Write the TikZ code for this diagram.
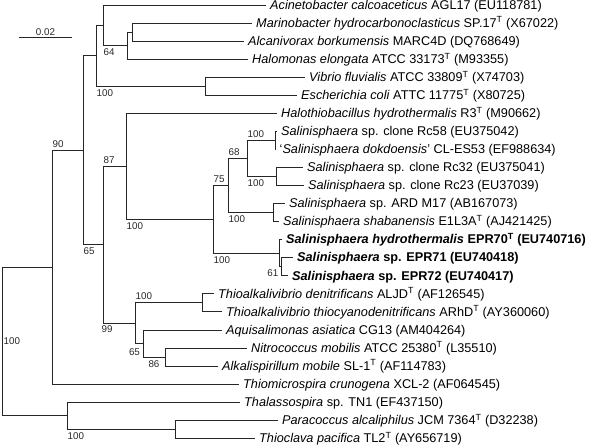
\documentclass[tikz,border=0pt]{standalone}
\usepackage{fontspec}
\setmainfont{Liberation Sans}

\begin{document}
\begin{tikzpicture}
    [x=1pt,y=-1pt,
      branch/.style={draw=black!85,line width=0.8pt},
      taxon/.style={anchor=west,inner xsep=4pt,inner ysep=0pt,text height=11pt,text depth=2.5pt,font=\fontsize{12.7}{14}\selectfont},
      bold taxon/.style={taxon,font=\fontsize{12.7}{14}\selectfont\bfseries},
      boot/.style={inner xsep=0.5pt,inner ysep=2.8pt,text=black!85,font=\fontsize{9.8}{11}\selectfont},
      bootb/.style={boot,anchor=north west},
      boota/.style={boot,anchor=south west}
    ]
    \useasboundingbox (0,0) rectangle (590,447);
    \coordinate (root) at (2,341.4);
    \coordinate (nU) at (52,267.1);
    \coordinate (nT) at (83,150.2);
    \coordinate (nE) at (96,55.8);
    \coordinate (nC) at (103,25.3);
    \coordinate (nB) at (127,45.6);
    \coordinate (nA) at (132,32.1);
    \coordinate (nD) at (205,86.2);
    \coordinate (nS) at (103,244.7);
    \coordinate (nN) at (126,166.3);
    \coordinate (nM) at (213,219.3);
    \coordinate (nJ) at (228,185.5);
    \coordinate (nH) at (247,158.4);
    \coordinate (nF) at (275,140.4);
    \coordinate (nG) at (276,176.5);
    \coordinate (nI) at (273,212.6);
    \coordinate (nL) at (279,253.2);
    \coordinate (nK) at (281,266.7);
    \coordinate (nR) at (135,323.1);
    \coordinate (nO) at (202,302.8);
    \coordinate (nQ) at (143,343.4);
    \coordinate (nP) at (165,357.0);
    \coordinate (nW) at (67,415.6);
    \coordinate (nV) at (175,429.2);

    \node [taxon] (acin) at (266,5.0) {\textit{Acinetobacter calcoaceticus} AGL17 (EU118781)};
    \node [taxon] (mari) at (252,23.05) {\textit{Marinobacter hydrocarbonoclasticus} SP.17\textsuperscript{T} (X67022)};
    \node [taxon] (alca) at (244,41.1) {\textit{Alcanivorax borkumensis} MARC4D (DQ768649)};
    \node [taxon] (halo) at (248,59.15) {\textit{Halomonas elongata} ATCC 33173\textsuperscript{T} (M93355)};
    \node [taxon] (vibr) at (305,77.2) {\textit{Vibrio fluvialis} ATCC 33809\textsuperscript{T} (X74703)};
    \node [taxon] (esch) at (297,95.25) {\textit{Escherichia coli} ATTC 11775\textsuperscript{T} (X80725)};
    \node [taxon] (hthi) at (277,113.3) {\textit{Halothiobacillus hydrothermalis} R3\textsuperscript{T} (M90662)};
    \node [taxon] (rc58) at (277,131.35) {\textit{Salinisphaera} sp. clone Rc58 (EU375042)};
    \node [taxon] (dokd) at (275.5,149.4) {`\textit{Salinisphaera dokdoensis}' CL-ES53 (EF988634)};
    \node [taxon] (rc32) at (303,167.45) {\textit{Salinisphaera} sp. clone Rc32 (EU375041)};
    \node [taxon] (rc23) at (304,185.5) {\textit{Salinisphaera} sp. clone Rc23 (EU37039)};
    \node [taxon] (ardm) at (285,203.55) {\textit{Salinisphaera} sp. ARD M17 (AB167073)};
    \node [taxon] (shab) at (279,221.6) {\textit{Salinisphaera shabanensis} E1L3A\textsuperscript{T} (AJ421425)};
    \node [bold taxon] (epr70) at (282,239.65) {\textit{Salinisphaera hydrothermalis} EPR70\textsuperscript{T} (EU740716)};
    \node [bold taxon] (epr71) at (293,257.7) {\textit{Salinisphaera} sp. EPR71 (EU740418)};
    \node [bold taxon] (epr72) at (288,275.75) {\textit{Salinisphaera} sp. EPR72 (EU740417)};
    \node [taxon] (tden) at (214,293.8) {\textit{Thioalkalivibrio denitrificans} ALJD\textsuperscript{T} (AF126545)};
    \node [taxon] (tthi) at (222,311.85) {\textit{Thioalkalivibrio thiocyanodenitrificans} ARhD\textsuperscript{T} (AY360060)};
    \node [taxon] (aqui) at (222,329.9) {\textit{Aquisalimonas asiatica} CG13 (AM404264)};
    \node [taxon] (nitr) at (247,347.95) {\textit{Nitrococcus mobilis} ATCC 25380\textsuperscript{T} (L35510)};
    \node [taxon] (alka) at (218,366.0) {\textit{Alkalispirillum mobile} SL-1\textsuperscript{T} (AF114783)};
    \node [taxon] (tmic) at (239,384.05) {\textit{Thiomicrospira crunogena} XCL-2 (AF064545)};
    \node [taxon] (thal) at (240,402.1) {\textit{Thalassospira} sp. TN1 (EF437150)};
    \node [taxon] (para) at (278,420.15) {\textit{Paracoccus alcaliphilus} JCM 7364\textsuperscript{T} (D32238)};
    \node [taxon] (tpac) at (255,438.2) {\textit{Thioclava pacifica} TL2\textsuperscript{T} (AY656719)};

    \draw [branch] (root) |- (nU) (root) |- (nW);
    \draw [branch] (nU) |- (nT) (nU) |- (tmic.west);
    \draw [branch] (nT) |- (nE) (nT) |- (nS);
    \draw [branch] (nE) |- (nC) (nE) |- (nD);
    \draw [branch] (nC) |- (acin.west) (nC) |- (nB);
    \draw [branch] (nB) |- (nA) (nB) |- (halo.west);
    \draw [branch] (nA) |- (mari.west) (nA) |- (alca.west);
    \draw [branch] (nD) |- (vibr.west) (nD) |- (esch.west);
    \draw [branch] (nS) |- (nN) (nS) |- (nR);
    \draw [branch] (nN) |- (hthi.west) (nN) |- (nM);
    \draw [branch] (nM) |- (nJ) (nM) |- (nL);
    \draw [branch] (nJ) |- (nH) (nJ) |- (nI);
    \draw [branch] (nH) |- (nF) (nH) |- (nG);
    \draw [branch] (nF) |- (rc58.west) (nF) |- (dokd.west);
    \draw [branch] (nG) |- (rc32.west) (nG) |- (rc23.west);
    \draw [branch] (nI) |- (ardm.west) (nI) |- (shab.west);
    \draw [branch] (nL) |- (epr70.west) (nL) |- (nK);
    \draw [branch] (nK) |- (epr71.west) (nK) |- (epr72.west);
    \draw [branch] (nR) |- (nO) (nR) |- (nQ);
    \draw [branch] (nO) |- (tden.west) (nO) |- (tthi.west);
    \draw [branch] (nQ) |- (aqui.west) (nQ) |- (nP);
    \draw [branch] (nP) |- (nitr.west) (nP) |- (alka.west);
    \draw [branch] (nW) |- (thal.west) (nW) |- (nV);
    \draw [branch] (nV) |- (para.west) (nV) |- (tpac.west);

    \node [bootb] (bsB) at (nC |- nB) {64};
    \node [bootb] (bsD) at (nE |- nD) {100};
    \node [boota] (bsT) at (nU |- nT) {90};
    \node [boota] (bsN) at (nS |- nN) {87};
    \node [bootb] (bsS) at (nT |- nS) {65};
    \node [bootb] (bsM) at (nN |- nM) {100};
    \node [boota] (bsH) at (nJ |- nH) {68};
    \node [boota] (bsF) at (nH |- nF) {100};
    \node [bootb] (bsG) at (nH |- nG) {100};
    \node [boota] (bsJ) at (nM |- nJ) {75};
    \node [bootb] (bsI) at (nJ |- nI) {100};
    \node [bootb] (bsL) at (nM |- nL) {100};
    \node [boot,anchor=east] (bsK) at (279,273.5) {61};
    \node [boota] (bsO) at (nR |- nO) {100};
    \node [bootb] (bsR) at (101,323.1) {99};
    \node [boot] (bsQ) at (134.5,352) {65};
    \node [boot] (bsP) at (154,364) {86};
    \node [boot,anchor=west] (bsU) at (3,341.4) {100};
    \node [bootb] (bsV) at (nW |- nV) {100};

    \coordinate (sbl) at (19,37);
    \coordinate (sbr) at (72,37);
    \draw [branch] (sbl) -- (sbr) node [boot,midway,above,inner ysep=1.5pt] (sbar) {0.02};
\end{tikzpicture}
\end{document}
